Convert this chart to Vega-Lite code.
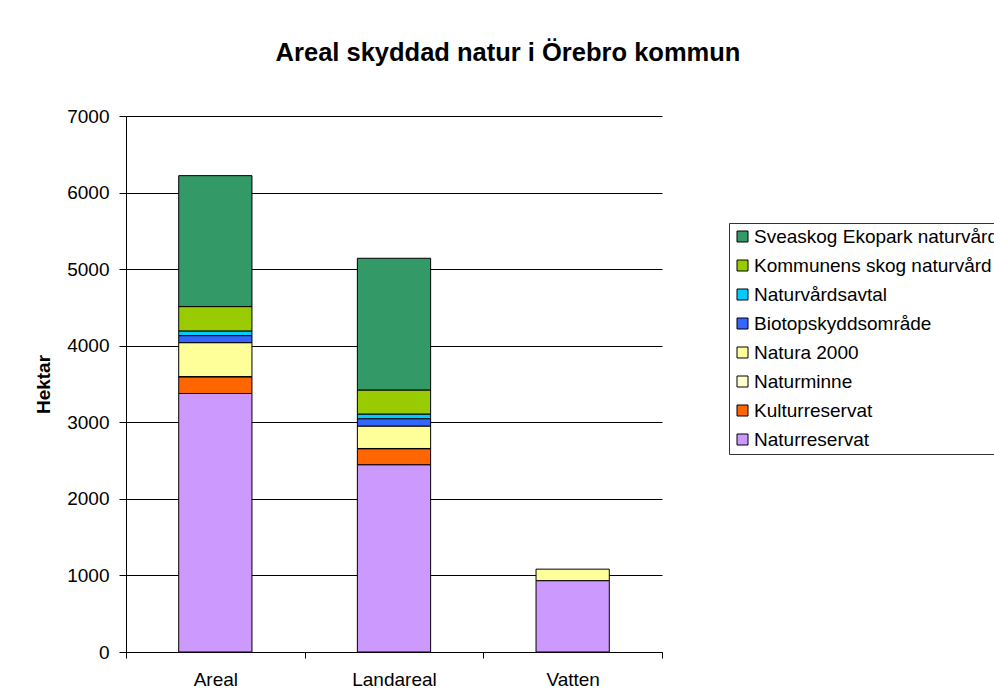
{
  "$schema": "https://vega.github.io/schema/vega-lite/v6.json",
  "width": 536,
  "height": 536,
  "autosize": {"type": "none"},
  "padding": {"left": 126, "top": 116, "right": 332, "bottom": 48},
  "background": "white",
  "title": {
    "text": "Areal skyddad natur i Örebro kommun",
    "font": "Liberation Sans",
    "fontSize": 25.5,
    "fontWeight": "bold",
    "color": "black",
    "anchor": "middle",
    "dx": 114,
    "offset": 41
  },
  "data": {
    "values": [
      {"omrade": "Areal", "typ": "Naturreservat", "ordning": 1, "hektar": 3376},
      {"omrade": "Areal", "typ": "Kulturreservat", "ordning": 2, "hektar": 218},
      {"omrade": "Areal", "typ": "Naturminne", "ordning": 3, "hektar": 3},
      {"omrade": "Areal", "typ": "Natura 2000", "ordning": 4, "hektar": 443},
      {"omrade": "Areal", "typ": "Biotopskyddsområde", "ordning": 5, "hektar": 92},
      {"omrade": "Areal", "typ": "Naturvårdsavtal", "ordning": 6, "hektar": 61},
      {"omrade": "Areal", "typ": "Kommunens skog naturvård", "ordning": 7, "hektar": 318},
      {"omrade": "Areal", "typ": "Sveaskog Ekopark naturvård", "ordning": 8, "hektar": 1710},
      {"omrade": "Landareal", "typ": "Naturreservat", "ordning": 1, "hektar": 2446},
      {"omrade": "Landareal", "typ": "Kulturreservat", "ordning": 2, "hektar": 209},
      {"omrade": "Landareal", "typ": "Naturminne", "ordning": 3, "hektar": 3},
      {"omrade": "Landareal", "typ": "Natura 2000", "ordning": 4, "hektar": 293},
      {"omrade": "Landareal", "typ": "Biotopskyddsområde", "ordning": 5, "hektar": 96},
      {"omrade": "Landareal", "typ": "Naturvårdsavtal", "ordning": 6, "hektar": 61},
      {"omrade": "Landareal", "typ": "Kommunens skog naturvård", "ordning": 7, "hektar": 314},
      {"omrade": "Landareal", "typ": "Sveaskog Ekopark naturvård", "ordning": 8, "hektar": 1720},
      {"omrade": "Vatten", "typ": "Naturreservat", "ordning": 1, "hektar": 932},
      {"omrade": "Vatten", "typ": "Natura 2000", "ordning": 4, "hektar": 150}
    ]
  },
  "mark": {"type": "bar", "stroke": "black", "strokeWidth": 1, "width": {"band": 0.41}},
  "encoding": {
    "x": {
      "field": "omrade",
      "type": "nominal",
      "sort": ["Areal", "Landareal", "Vatten"],
      "scale": {"paddingInner": 0, "paddingOuter": 0},
      "axis": {
        "title": null,
        "labelAngle": 0,
        "labelFont": "Liberation Sans",
        "labelFontSize": 19,
        "labelColor": "black",
        "labelPadding": 12,
        "tickBand": "extent",
        "tickColor": "black",
        "tickSize": 6,
        "domainColor": "black",
        "grid": false
      }
    },
    "y": {
      "field": "hektar",
      "type": "quantitative",
      "aggregate": "sum",
      "stack": "zero",
      "scale": {"domain": [0, 7000], "nice": false},
      "axis": {
        "title": "Hektar",
        "titleFont": "Liberation Sans",
        "titleFontSize": 19,
        "titleFontWeight": "bold",
        "titleColor": "black",
        "titlePadding": 13,
        "values": [0, 1000, 2000, 3000, 4000, 5000, 6000, 7000],
        "format": "d",
        "labelFont": "Liberation Sans",
        "labelFontSize": 19,
        "labelColor": "black",
        "labelPadding": 10,
        "tickColor": "black",
        "tickSize": 7,
        "domainColor": "black",
        "grid": true,
        "gridColor": "black",
        "gridWidth": 1
      }
    },
    "color": {
      "field": "typ",
      "type": "nominal",
      "scale": {
        "domain": ["Sveaskog Ekopark naturvård", "Kommunens skog naturvård", "Naturvårdsavtal", "Biotopskyddsområde", "Natura 2000", "Naturminne", "Kulturreservat", "Naturreservat"],
        "range": ["#339966", "#99cc00", "#00ccff", "#3366ff", "#ffff99", "#ffffcc", "#ff6600", "#cc99ff"]
      },
      "legend": {
        "title": null,
        "orient": "none",
        "legendX": 603,
        "legendY": 107,
        "labelFont": "Liberation Sans",
        "labelFontSize": 19,
        "labelColor": "black",
        "labelLimit": 400,
        "labelOffset": 2,
        "symbolType": "square",
        "symbolSize": 121,
        "symbolStrokeColor": "black",
        "symbolStrokeWidth": 1,
        "rowPadding": 9,
        "padding": 4,
        "strokeColor": "#333333",
        "fillColor": "white"
      }
    },
    "order": {"field": "ordning", "type": "quantitative", "sort": "ascending"}
  },
  "config": {
    "view": {"stroke": null}
  }
}
